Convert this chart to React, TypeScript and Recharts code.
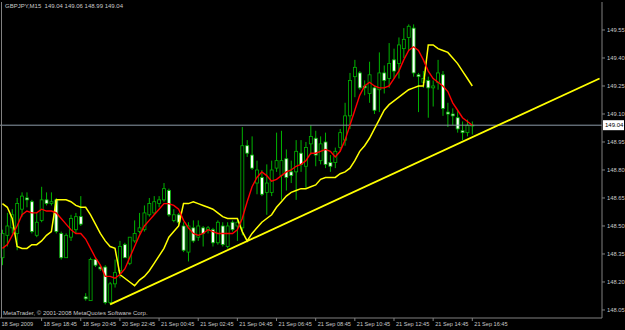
import { ComposedChart, Bar, Line, XAxis, YAxis, ReferenceLine } from 'recharts';

const opens = [
  148.33, 148.45, 148.49, 148.46, 148.59, 148.65, 148.63, 148.45, 148.53, 148.64,
  148.62, 148.64, 148.46, 148.33, 148.44, 148.48, 148.55, 148.12, 148.10, 148.32,
  148.28, 148.28, 148.09, 148.19, 148.26, 148.40, 148.30, 148.42, 148.47, 148.48,
  148.56, 148.57, 148.62, 148.64, 148.69, 148.53, 148.56, 148.50, 148.36, 148.49,
  148.44, 148.49, 148.48, 148.48, 148.41, 148.50, 148.39, 148.52, 148.50, 148.49,
  148.93, 148.88, 148.73, 148.76, 148.68, 148.68, 148.81, 148.77, 148.86, 148.79,
  148.79, 148.89, 148.82, 148.94, 148.97, 148.85, 148.95, 148.84, 148.84, 148.92,
  148.96, 149.09, 149.30, 149.32, 149.25, 149.21, 149.24, 149.23, 149.32, 149.29,
  149.39, 149.37, 149.45, 149.51, 149.56, 149.31, 149.27, 149.28, 149.24, 149.27,
  149.31, 149.11, 149.10, 149.08, 149.01, 149.00, 149.04,
];
const highs = [
  148.48, 148.57, 148.59, 148.65, 148.68, 148.68, 148.64, 148.57, 148.71, 148.68,
  148.68, 148.65, 148.47, 148.46, 148.56, 148.57, 148.66, 148.14, 148.33, 148.33,
  148.29, 148.29, 148.20, 148.32, 148.42, 148.41, 148.44, 148.53, 148.57, 148.61,
  148.65, 148.66, 148.66, 148.73, 148.70, 148.59, 148.57, 148.52, 148.52, 148.53,
  148.53, 148.50, 148.50, 148.49, 148.53, 148.52, 148.52, 148.53, 148.54, 149.03,
  148.96, 148.98, 148.85, 148.80, 148.83, 148.85, 149.00, 149.01, 148.91, 148.85,
  148.96, 148.96, 148.95, 149.04, 149.01, 148.98, 149.00, 148.88, 148.92, 149.02,
  149.16, 149.32, 149.39, 149.33, 149.28, 149.38, 149.25, 149.43, 149.36, 149.48,
  149.45, 149.51, 149.56, 149.58, 149.58, 149.32, 149.33, 149.30, 149.28, 149.39,
  149.33, 149.16, 149.13, 149.12, 149.06, 149.07, 149.06,
];
const lows = [
  148.29, 148.39, 148.46, 148.37, 148.55, 148.60, 148.46, 148.44, 148.52, 148.61,
  148.61, 148.46, 148.32, 148.33, 148.42, 148.46, 148.50, 148.10, 148.10, 148.28,
  148.26, 148.08, 148.08, 148.17, 148.22, 148.33, 148.29, 148.41, 148.46, 148.47,
  148.55, 148.56, 148.60, 148.63, 148.55, 148.52, 148.51, 148.36, 148.31, 148.41,
  148.42, 148.39, 148.46, 148.39, 148.40, 148.39, 148.38, 148.47, 148.42, 148.45,
  148.87, 148.80, 148.67, 148.66, 148.56, 148.66, 148.79, 148.64, 148.69, 148.73,
  148.64, 148.79, 148.70, 148.88, 148.82, 148.83, 148.81, 148.79, 148.81, 148.90,
  148.93, 149.02, 149.19, 149.23, 149.20, 149.16, 149.10, 149.11, 149.21, 149.24,
  149.29, 149.29, 149.40, 149.44, 149.30, 149.11, 149.24, 149.08, 149.14, 149.23,
  149.09, 149.03, 149.04, 149.00, 148.96, 148.98, 148.99,
];
const closes = [
  148.46, 148.50, 148.56, 148.62, 148.66, 148.64, 148.47, 148.52, 148.64, 148.62,
  148.63, 148.47, 148.33, 148.45, 148.54, 148.55, 148.51, 148.11, 148.32, 148.29,
  148.27, 148.09, 148.19, 148.25, 148.39, 148.33, 148.44, 148.46, 148.49, 148.57,
  148.62, 148.63, 148.64, 148.70, 148.56, 148.56, 148.52, 148.37, 148.50, 148.42,
  148.50, 148.46, 148.49, 148.41, 148.52, 148.40, 148.50, 148.48, 148.52, 148.93,
  148.89, 148.81, 148.80, 148.67, 148.73, 148.80, 148.85, 148.85, 148.76, 148.77,
  148.90, 148.83, 148.92, 148.98, 148.88, 148.94, 148.83, 148.82, 148.90, 149.00,
  149.09, 149.28, 149.35, 149.24, 149.24, 149.31, 149.12, 149.32, 149.28, 149.37,
  149.33, 149.47, 149.50, 149.57, 149.32, 149.30, 149.29, 149.24, 149.25, 149.32,
  149.13, 149.10, 149.09, 149.02, 149.00, 149.04, 149.04,
];

// red moving average
const maValues = [
  148.38, 148.40, 148.45, 148.50, 148.56, 148.58, 148.57, 148.57, 148.59, 148.58,
  148.58, 148.57, 148.54, 148.51, 148.48, 148.46, 148.46, 148.43, 148.38, 148.33,
  148.29, 148.23, 148.23, 148.22, 148.24, 148.27, 148.33, 148.39, 148.45, 148.50,
  148.53, 148.56, 148.59, 148.62, 148.62, 148.61, 148.59, 148.53, 148.49, 148.46,
  148.45, 148.46, 148.48, 148.47, 148.46, 148.46, 148.46, 148.46, 148.48, 148.54,
  148.63, 148.71, 148.76, 148.79, 148.77, 148.74, 148.75, 148.77, 148.79, 148.80,
  148.82, 148.83, 148.85, 148.89, 148.89, 148.90, 148.91, 148.90, 148.87, 148.90,
  148.96, 149.04, 149.12, 149.20, 149.25, 149.27, 149.25, 149.24, 149.24, 149.25,
  149.29, 149.33, 149.39, 149.44, 149.46, 149.44, 149.39, 149.33, 149.29, 149.27,
  149.25, 149.22, 149.16, 149.12, 149.08, 149.06, 149.04,
];

// yellow trailing line
const stopValues = [
  148.62, 148.60, 148.54, 148.39, 148.38, 148.38, 148.40, 148.40, 148.42, 148.45,
  148.47, 148.64, 148.64, 148.64, 148.63, 148.61, 148.60, 148.60, 148.56, 148.51,
  148.46, 148.42, 148.39, 148.38, 148.24, 148.22, 148.20, 148.18, 148.21, 148.23,
  148.26, 148.30, 148.34, 148.38, 148.44, 148.47, 148.50, 148.62, 148.62, 148.63,
  148.62, 148.61, 148.60, 148.59, 148.57, 148.55, 148.54, 148.54, 148.54, 148.47,
  148.42, 148.46, 148.49, 148.52, 148.54, 148.56, 148.60, 148.63, 148.66, 148.68,
  148.69, 148.70, 148.70, 148.71, 148.72, 148.75, 148.76, 148.76, 148.76, 148.78,
  148.79, 148.81, 148.85, 148.90, 148.93, 148.97, 149.02, 149.07, 149.12, 149.15,
  149.17, 149.19, 149.21, 149.23, 149.24, 149.25, 149.25, 149.47, 149.47, 149.45,
  149.44, 149.43, 149.40, 149.37, 149.33, 149.29, 149.25,
];

const trendIdx = [22, 122];
const trendVals = [148.08, 149.29];

const tickIdx = [0, 8, 16, 24, 32, 40, 48, 56, 64, 72, 80, 88, 96];
const tickLabels = [
  '18 Sep 2009', '18 Sep 18:45', '18 Sep 20:45', '20 Sep 22:45', '21 Sep 00:45',
  '21 Sep 02:45', '21 Sep 04:45', '21 Sep 06:45', '21 Sep 08:45', '21 Sep 10:45',
  '21 Sep 12:45', '21 Sep 14:45', '21 Sep 16:45',
];
const priceTicks = [148.05, 148.2, 148.35, 148.5, 148.65, 148.8, 148.95, 149.1, 149.25, 149.4, 149.55];
const lastPrice = 149.04;
const SLOTS = 123;

const GREEN = '#00b400';
const TEXT = '#c8c8c8';
const FONT = '"Liberation Sans", Arial, sans-serif';

const data = Array.from({ length: SLOTS }, (_, i) => {
  const has = i < opens.length;
  const t = trendIdx.indexOf(i);
  return {
    i,
    range: has ? [lows[i], highs[i]] : null,
    open: has ? opens[i] : null,
    high: has ? highs[i] : null,
    low: has ? lows[i] : null,
    close: has ? closes[i] : null,
    ma: has ? maValues[i] : null,
    stop: has ? stopValues[i] : null,
    trend: t >= 0 ? trendVals[t] : null,
  };
});

function Candle(props: any) {
  const { x, y, width, height, payload } = props;
  if (payload == null || payload.high == null) return null;
  const { open, close, high, low } = payload;
  const span = high - low || 1;
  const py = (p: number) => y + ((high - p) / span) * height;
  const cx = x + width / 2;
  const top = py(Math.max(open, close));
  const bot = py(Math.min(open, close));
  const bull = close > open;
  return (
    <g>
      <line x1={cx} x2={cx} y1={y} y2={y + height} stroke={GREEN} strokeWidth={1} />
      <rect
        x={x}
        y={top}
        width={width}
        height={Math.max(bot - top, 0.8)}
        fill={bull ? '#000000' : '#ffffff'}
        stroke={GREEN}
        strokeWidth={0.8}
      />
    </g>
  );
}

function TimeTick(props: any) {
  const { x, y, payload } = props;
  const k = tickIdx.indexOf(payload.value);
  if (k < 0) return null;
  return (
    <g>
      {k > 0 && <line x1={x} x2={x} y1={y} y2={y + 3} stroke="#808080" />}
      <text x={k === 0 ? x - 1 : x + 2} y={y + 8} fill={TEXT} fontSize={5.6} fontFamily={FONT}>
        {tickLabels[k]}
      </text>
    </g>
  );
}

function PriceBox(props: any) {
  const { viewBox } = props;
  if (!viewBox) return null;
  const left = viewBox.x + viewBox.width + 1;
  return (
    <g>
      <rect x={left} y={viewBox.y - 5} width={21} height={10} fill="#ffffff" />
      <text x={left + 2} y={viewBox.y + 2.2} fill="#000000" fontSize={6} fontFamily={FONT}>
        {lastPrice.toFixed(2)}
      </text>
    </g>
  );
}

export default function App() {
  return (
    <div style={{ position: 'relative', width: 625, height: 330, background: '#000000', overflow: 'hidden' }}>
      <style>{'body{margin:0;background:#000;}'}</style>
      <ComposedChart width={625} height={330} data={data} margin={{ top: 2, right: 0, bottom: 0, left: 0 }}>
        <XAxis
          dataKey="i"
          type="number"
          domain={[-0.5, SLOTS - 0.5]}
          ticks={tickIdx}
          interval={0}
          height={12}
          tickSize={0}
          tickMargin={0}
          axisLine={{ stroke: '#808080' }}
          tickLine={false}
          tick={<TimeTick />}
          allowDataOverflow
        />
        <YAxis
          orientation="right"
          type="number"
          domain={[148.007, 149.7]}
          ticks={priceTicks}
          interval={0}
          width={23}
          tickSize={3}
          tickMargin={2}
          axisLine={{ stroke: '#808080' }}
          tickLine={{ stroke: '#808080' }}
          tick={{ fill: TEXT, fontSize: 5.8, fontFamily: FONT }}
          tickFormatter={(v: number) => v.toFixed(2)}
          allowDataOverflow
        />
        <ReferenceLine y={lastPrice} stroke="#8c9aa8" strokeWidth={1} label={<PriceBox />} />
        <Bar dataKey="range" barSize={3} shape={<Candle />} isAnimationActive={false} />
        <Line dataKey="stop" type="linear" stroke="#ffff00" strokeWidth={1.5} dot={false} isAnimationActive={false} />
        <Line dataKey="ma" type="linear" stroke="#ff0000" strokeWidth={1.4} dot={false} isAnimationActive={false} />
        <Line
          dataKey="trend"
          type="linear"
          stroke="#ffff00"
          strokeWidth={1.8}
          dot={false}
          connectNulls
          isAnimationActive={false}
        />
      </ComposedChart>
      <div style={{ position: 'absolute', left: 1, top: 2, width: 1, height: 316, background: '#808080' }} />
      <div
        style={{
          position: 'absolute',
          left: 5,
          top: 3,
          color: TEXT,
          fontSize: 6,
          fontFamily: FONT,
          whiteSpace: 'pre',
          lineHeight: '7px',
        }}
      >
        {'GBPJPY,M15  149.04 149.06 148.99 149.04'}
      </div>
      <div
        style={{
          position: 'absolute',
          left: 3,
          top: 310,
          color: TEXT,
          fontSize: 6,
          fontFamily: FONT,
          whiteSpace: 'pre',
          lineHeight: '7px',
        }}
      >
        {'MetaTrader, © 2001-2008 MetaQuotes Software Corp.'}
      </div>
    </div>
  );
}
